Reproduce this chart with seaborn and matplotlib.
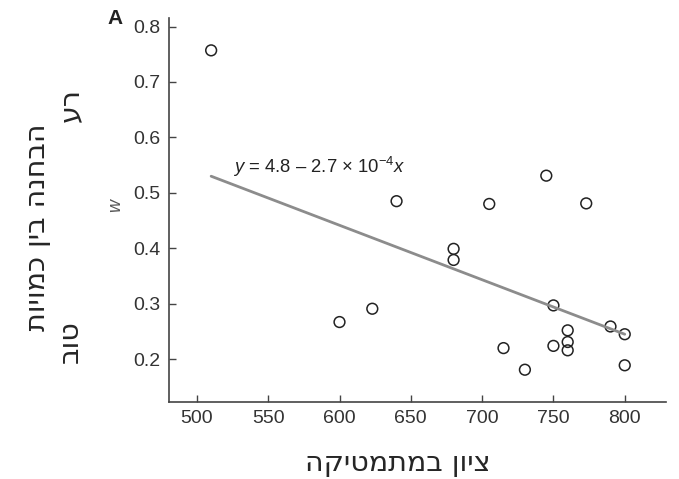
import numpy as np
import pandas as pd
import seaborn as sns
from matplotlib import pyplot as plt

# data
math_score = [510, 640, 705, 745, 773, 680, 680, 600, 623, 750,
              760, 760, 760, 715, 750, 730, 790, 800, 800]
w_value = [0.757, 0.485, 0.480, 0.531, 0.481, 0.399, 0.379, 0.267, 0.291, 0.297,
           0.252, 0.231, 0.216, 0.220, 0.224, 0.181, 0.259, 0.245, 0.189]
fit_x = [510, 800]
fit_y = [0.530, 0.245]
x_ticks = [500, 550, 600, 650, 700, 750, 800]
y_ticks = [0.2, 0.3, 0.4, 0.5, 0.6, 0.7, 0.8]

x_label = "ציון במתמטיקה"
y_label_top = "רע"
y_label_mid = "הבחנה בין כמויות"
y_label_bot = "טוב"


def vis(s):
    # matplotlib has no bidi, flip hebrew to visual order
    return s[::-1]


sns.set_style("ticks")
plt.rcParams['font.family'] = ['Liberation Sans', 'DejaVu Sans']
plt.rcParams['mathtext.fontset'] = 'custom'
plt.rcParams['mathtext.rm'] = 'Liberation Sans'
plt.rcParams['mathtext.it'] = 'Liberation Sans:italic'

df = pd.DataFrame({'x': math_score, 'w': w_value})
fit = pd.DataFrame({'x': fit_x, 'y': fit_y})

fig = plt.figure(figsize=(6.79, 4.79), dpi=100)
ax = fig.add_axes([0.249, 0.161, 0.732, 0.801])

sns.lineplot(data=fit, x='x', y='y', ax=ax, color='#8c8c8c', linewidth=2)
sns.scatterplot(data=df, x='x', y='w', ax=ax, marker='o', s=60,
                facecolor='none', edgecolor='#222222', linewidth=1.1)

ax.set_xlim(480.5, 829)
ax.set_ylim(0.123, 0.815)
ax.set_xticks(x_ticks)
ax.set_yticks(y_ticks)
ax.set_yticklabels([f'{t:.1f}' for t in y_ticks])
ax.tick_params(direction='in', length=5, width=1, colors='#444444',
               labelcolor='#333333', labelsize=14, pad=6)
for side in ['left', 'bottom']:
    ax.spines[side].set_color('#444444')
    ax.spines[side].set_linewidth(1.2)
sns.despine(ax=ax)
ax.set_xlabel('')
ax.set_ylabel('')

ax.text(525, 0.536, r'$y$ = 4.8 – 2.7 × 10$^{-4}$$x$', fontsize=13.3,
        color='#222222', va='baseline')

fig.text(107 / 679, 1 - 19 / 479, 'A', fontsize=15, fontweight='bold',
         color='#222222', va='center')
fig.text(116 / 679, 1 - 205 / 479, 'w', fontsize=13, style='italic',
         color='#555555', rotation=90, ha='center', va='center')

hfont = ['DejaVu Sans']
fig.text(398 / 679, 1 - 463 / 479, vis(x_label), fontsize=20.5, family=hfont,
         ha='center', va='center')
fig.text(70 / 679, 1 - 105 / 479, vis(y_label_top), fontsize=20.5, family=hfont,
         rotation=90, ha='center', va='center')
fig.text(37 / 679, 1 - 227 / 479, vis(y_label_mid), fontsize=20.5, family=hfont,
         rotation=90, ha='center', va='center')
fig.text(70 / 679, 1 - 342 / 479, vis(y_label_bot), fontsize=20.5, family=hfont,
         rotation=90, ha='center', va='center')

fig.savefig('out.png', dpi=100)
